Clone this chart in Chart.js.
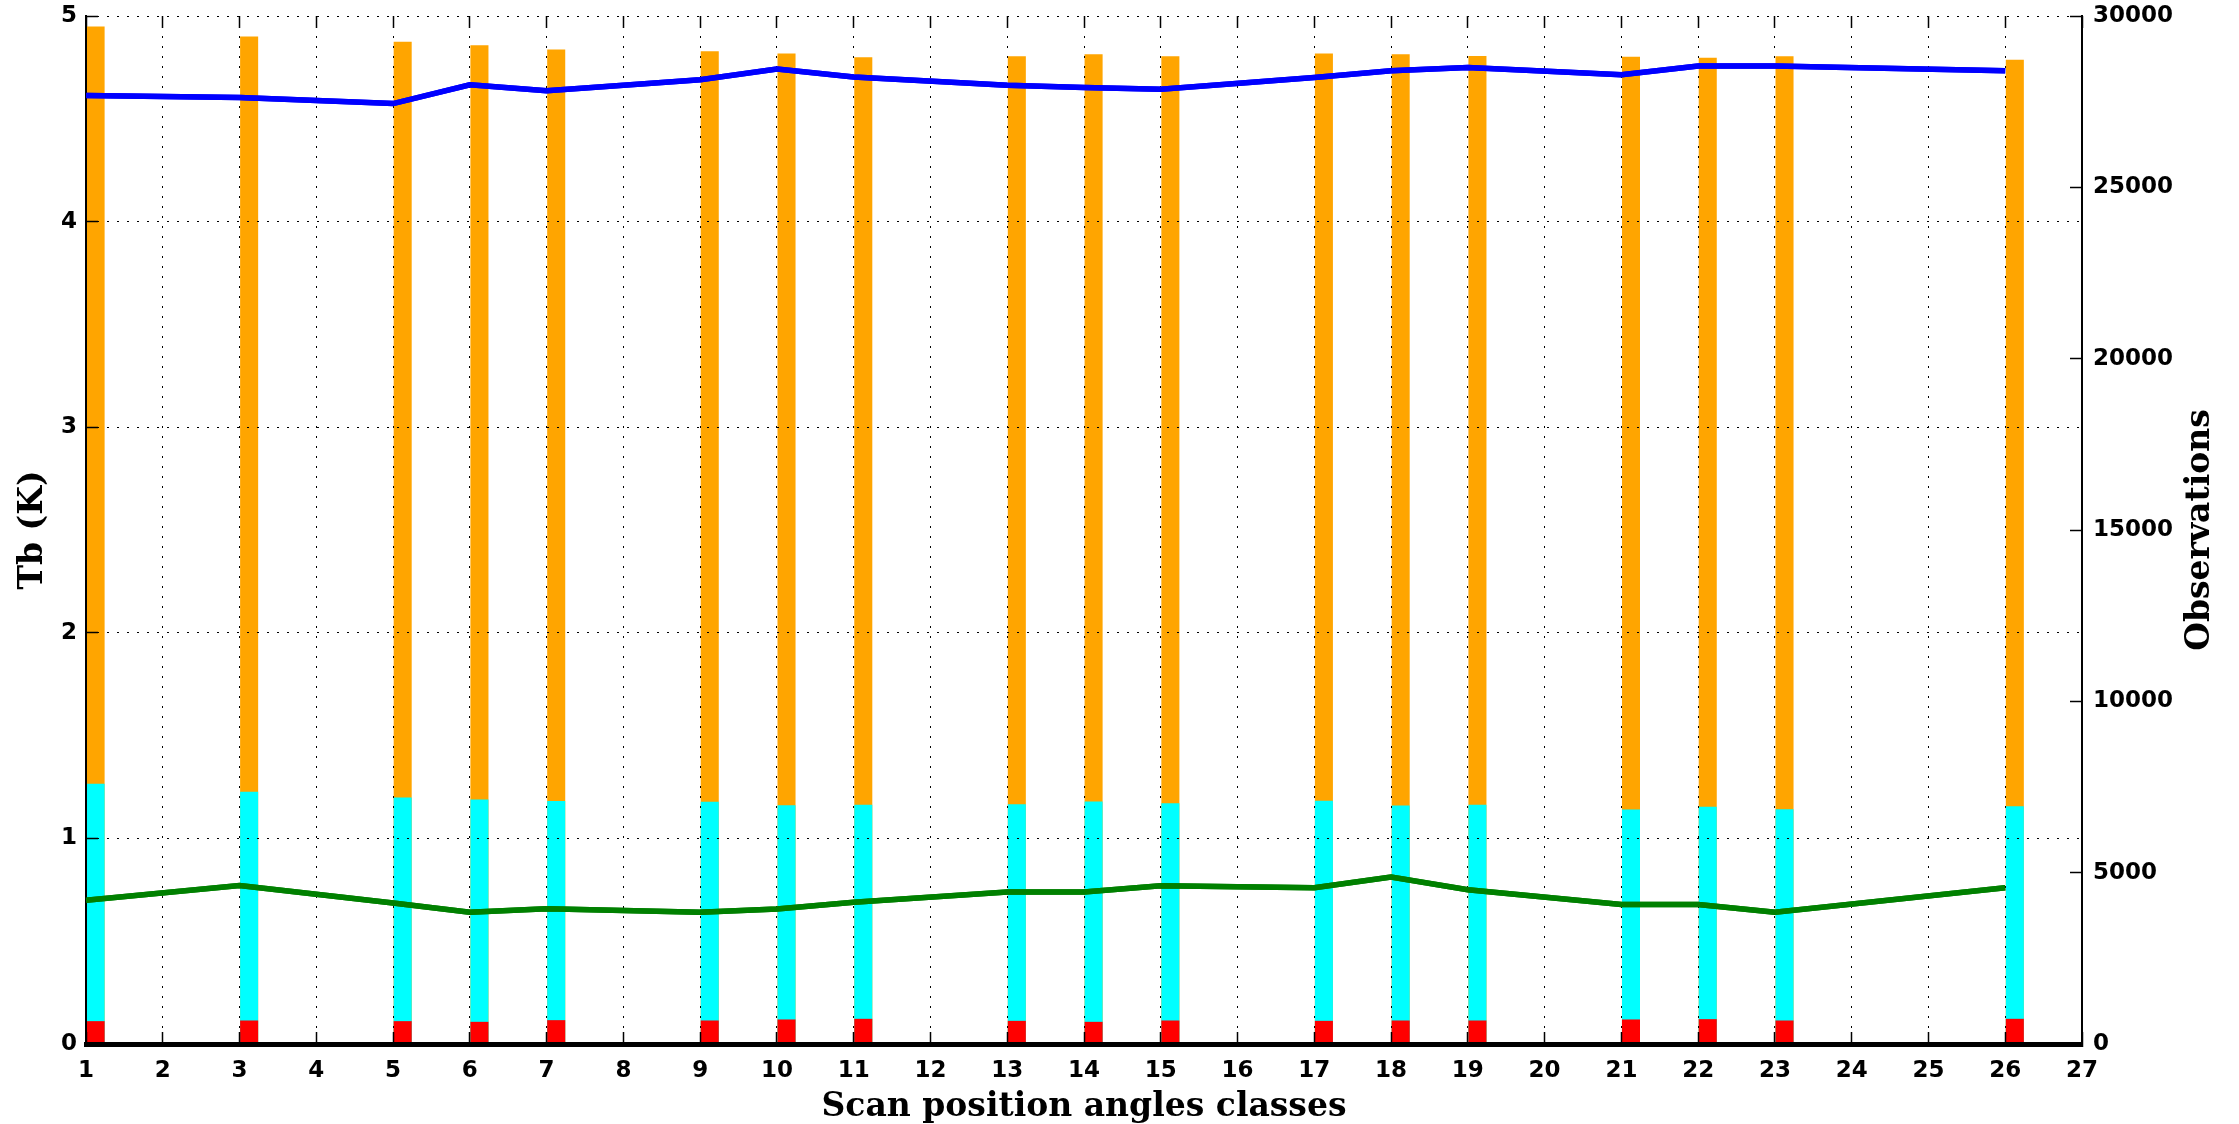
<!DOCTYPE html>
<html>
<head>
<meta charset="utf-8">
<script src="https://cdn.jsdelivr.net/npm/chart.js@4"></script>
<style>
  body { margin: 0; background: #fff; }
</style>
</head>
<body>
<canvas id="chart" width="2239" height="1124"></canvas>
<script>
// scan position classes that have data
const positions = [1, 3, 5, 6, 7, 9, 10, 11, 13, 14, 15, 17, 18, 19, 21, 22, 23, 26];

// Tb (K) lines, left axis
const tbBlue  = [4.613, 4.603, 4.574, 4.665, 4.636, 4.690, 4.742, 4.703, 4.663, 4.652, 4.644, 4.701, 4.734, 4.750, 4.714, 4.757, 4.757, 4.734];
const tbGreen = [0.699, 0.771, 0.686, 0.641, 0.658, 0.641, 0.657, 0.690, 0.739, 0.739, 0.770, 0.760, 0.812, 0.750, 0.678, 0.678, 0.641, 0.760];

// observation counts, right axis
const obsOrange = [29696, 29402, 29245, 29147, 29020, 28971, 28902, 28794, 28824, 28882, 28824, 28902, 28882, 28833, 28814, 28784, 28824, 28725];
const obsCyan   = [7598, 7363, 7196, 7137, 7088, 7069, 6971, 6980, 7000, 7078, 7029, 7098, 6961, 6980, 6843, 6922, 6853, 6941];
const obsRed    = [667, 686, 667, 647, 696, 686, 716, 735, 676, 647, 686, 676, 686, 686, 716, 725, 686, 735];

const xTitle = "Scan position angles classes";
const yTitle = "Tb (K)";
const y2Title = "Observations";

const pts = (vals) => positions.map((p, i) => ({ x: p, y: vals[i] }));

const tickFont = { family: "DejaVu Sans", weight: "bold", size: 23 };
const titleFont = { family: "DejaVu Serif", weight: "bold", size: 33 };
const dottedGrid = { color: "#000", lineWidth: 1, z: 1, offset: false,
  drawTicks: true, tickLength: -12, tickColor: "#000", tickWidth: 1.5, tickBorderDash: [] };

// lines go above the dotted grid, like the original
const linesOnTop = {
  id: "linesOnTop",
  afterDraw(chart) {
    chart.data.datasets.forEach((d, i) => {
      if (d.type === "line") chart.getDatasetMeta(i).controller.draw();
    });
  }
};

// right title reads bottom to top
const rightTitle = {
  id: "rightTitle",
  afterDraw(chart) {
    const c = chart.ctx;
    c.save();
    c.translate(2200, (chart.chartArea.top + chart.chartArea.bottom) / 2);
    c.rotate(-Math.PI / 2);
    c.font = "bold 33px 'DejaVu Serif'";
    c.fillStyle = "#000";
    c.textAlign = "center";
    c.textBaseline = "middle";
    c.fillText(y2Title, 0, 0);
    c.restore();
  }
};

new Chart(document.getElementById("chart"), {
  type: "bar",
  data: {
    datasets: [
      { type: "line", data: pts(tbBlue), xAxisID: "x", yAxisID: "y", borderColor: "#0000ff",
        borderWidth: 5.5, pointRadius: 0, tension: 0, order: 0 },
      { type: "line", data: pts(tbGreen), xAxisID: "x", yAxisID: "y", borderColor: "#008000",
        borderWidth: 5.5, pointRadius: 0, tension: 0, order: 1 },
      { type: "bar", data: pts(obsRed), xAxisID: "xb", yAxisID: "y2", backgroundColor: "#ff0000", order: 2 },
      { type: "bar", data: pts(obsCyan), xAxisID: "xb", yAxisID: "y2", backgroundColor: "#00ffff", order: 3 },
      { type: "bar", data: pts(obsOrange), xAxisID: "xb", yAxisID: "y2", backgroundColor: "#ffa500", order: 4 }
    ]
  },
  options: {
    responsive: false,
    devicePixelRatio: 1,
    animation: false,
    grouped: false,
    barPercentage: 0.235,
    categoryPercentage: 1,
    layout: { padding: { top: 16, left: 0, right: 0, bottom: 0 } },
    plugins: { legend: { display: false }, tooltip: { enabled: false } },
    scales: {
      x: {
        type: "linear", position: "bottom", min: 1, max: 27, offset: false,
        ticks: { stepSize: 1, color: "#000", font: tickFont, padding: 25, maxRotation: 0, autoSkip: false },
        grid: dottedGrid,
        border: { color: "#000", width: 5, z: 1, dash: [2, 8] },
        title: { display: true, text: xTitle, color: "#000", font: titleFont, padding: { top: 0, bottom: -3 } },
        afterFit(s) { s.height = 80; s.paddingLeft = 0; s.paddingRight = 0; }
      },
      xt: {
        type: "linear", position: "top", min: 1, max: 27, offset: false,
        ticks: { stepSize: 1, display: false },
        grid: { offset: false, drawOnChartArea: false, drawTicks: true, tickLength: -12, tickColor: "#000", tickWidth: 1.5 },
        border: { display: false },
        afterFit(s) { s.height = 0; s.paddingLeft = 0; s.paddingRight = 0; }
      },
      xb: {
        type: "linear", display: false, min: 0.875, max: 26.875, offset: false,
        grid: { offset: false }
      },
      y: {
        type: "linear", position: "left", min: 0, max: 5,
        ticks: { stepSize: 1, color: "#000", font: tickFont, padding: 21 },
        grid: dottedGrid,
        border: { color: "#000", width: 2, z: 1, dash: [2, 8] },
        title: { display: true, text: yTitle, color: "#000", font: titleFont, padding: { top: 14, bottom: 0 } },
        afterFit(s) { s.width = 86; s.paddingTop = 0; s.paddingBottom = 0; }
      },
      y2: {
        type: "linear", position: "right", min: 0, max: 30000,
        ticks: { stepSize: 5000, color: "#000", font: tickFont, padding: 23, callback: (v) => String(v) },
        grid: { drawOnChartArea: false, drawTicks: true, tickLength: -12, tickColor: "#000", tickWidth: 1.5 },
        border: { color: "#000", width: 2, z: 1 },
        afterFit(s) { s.width = 157; s.paddingTop = 0; s.paddingBottom = 0; }
      }
    }
  },
  plugins: [linesOnTop, rightTitle]
});
</script>
</body>
</html>
